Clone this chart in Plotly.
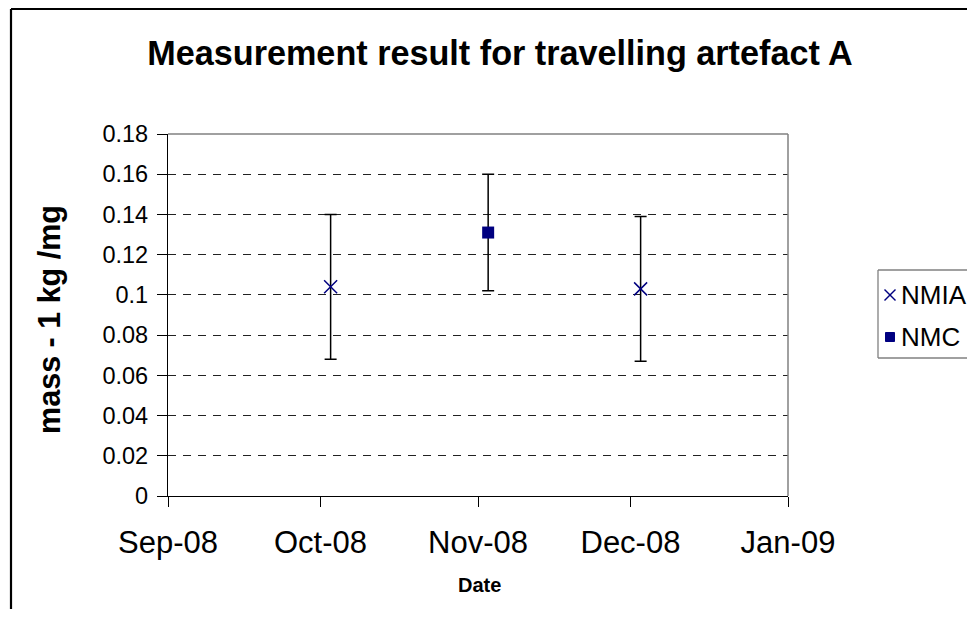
import plotly.graph_objects as go

# ---- data ----
nmia_dates = ["2008-10-03", "2008-12-03"]
nmia_values = [0.104, 0.103]
nmia_errors = [0.036, 0.036]

nmc_dates = ["2008-11-03"]
nmc_values = [0.131]
nmc_errors = [0.029]

series_names = ["NMIA", "NMC"]

x_tickvals = ["2008-09-01", "2008-10-01", "2008-11-01", "2008-12-01", "2009-01-01"]
x_ticktext = ["Sep-08", "Oct-08", "Nov-08", "Dec-08", "Jan-09"]
y_tickvals = [0, 0.02, 0.04, 0.06, 0.08, 0.1, 0.12, 0.14, 0.16, 0.18]
y_ticktext = ["0", "0.02", "0.04", "0.06", "0.08", "0.1", "0.12", "0.14", "0.16", "0.18"]

FONT = "Liberation Sans, Arial, sans-serif"
NAVY = "#000080"

# figure sized so that the page (with the browser's 8px body margin) fits the window
W, H = 959, 601
L, T = 160, 126
PW, PH = 620, 362


def px(x):  # figure pixel -> paper x
    return (x - L) / PW


def py(y):  # figure pixel -> paper y
    return (T + PH - y) / PH


fig = go.Figure()
fig.add_trace(go.Scatter(
    x=nmia_dates, y=nmia_values, mode="markers", name=series_names[0],
    marker=dict(symbol="x-thin-open", size=13, color=NAVY,
                line=dict(color=NAVY, width=1.5)),
    error_y=dict(type="data", array=nmia_errors, visible=True,
                 color="black", thickness=1.5, width=6),
))
fig.add_trace(go.Scatter(
    x=nmc_dates, y=nmc_values, mode="markers", name=series_names[1],
    marker=dict(symbol="square", size=12, color=NAVY),
    error_y=dict(type="data", array=nmc_errors, visible=True,
                 color="black", thickness=1.5, width=6),
))

GRAY = dict(color="#808080", width=1.3)
shapes = [
    # plot area top/right border
    dict(type="line", xref="paper", yref="paper", x0=0, x1=1, y0=1, y1=1,
         line=dict(color="#808080", width=1.5), layer="above"),
    dict(type="line", xref="paper", yref="paper", x0=1, x1=1, y0=0, y1=1,
         line=dict(color="#808080", width=1.5), layer="above"),
    # legend box (continues past the right edge)
    dict(type="line", xref="paper", yref="paper", x0=px(870), x1=px(W), y0=py(262), y1=py(262), line=GRAY),
    dict(type="line", xref="paper", yref="paper", x0=px(870), x1=px(W), y0=py(350), y1=py(350), line=GRAY),
    dict(type="line", xref="paper", yref="paper", x0=px(870), x1=px(870), y0=py(262), y1=py(350), line=GRAY),
    # legend key: NMIA cross
    dict(type="line", xref="paper", yref="paper", x0=px(876.5), x1=px(887.5), y0=py(281.5), y1=py(292.5),
         line=dict(color=NAVY, width=1.4)),
    dict(type="line", xref="paper", yref="paper", x0=px(876.5), x1=px(887.5), y0=py(292.5), y1=py(281.5),
         line=dict(color=NAVY, width=1.4)),
    # legend key: NMC square
    dict(type="rect", xref="paper", yref="paper", x0=px(877.5), x1=px(886.5), y0=py(324.5), y1=py(333.5),
         line=dict(color=NAVY, width=1), fillcolor=NAVY),
    # outer chart frame (left and top; right/bottom are beyond the picture)
    dict(type="line", xref="paper", yref="paper", x0=px(3), x1=px(3), y0=py(1), y1=py(H),
         line=dict(color="black", width=2.2)),
    dict(type="line", xref="paper", yref="paper", x0=px(3), x1=px(W), y0=py(1), y1=py(1),
         line=dict(color="black", width=2.2)),
]

fig.update_layout(
    width=W, height=H,
    margin=dict(l=L, r=W - L - PW, t=T, b=H - T - PH),
    paper_bgcolor="white", plot_bgcolor="white",
    font=dict(family=FONT, size=28, color="black"),
    title=dict(text="<b>Measurement result for travelling artefact A</b>",
               x=492/W, xanchor="center", y=1-45/H, yanchor="middle",
               font=dict(family=FONT, size=34.2, color="black")),
    showlegend=False,
    xaxis=dict(type="date", range=["2008-09-01", "2009-01-01"],
               tickvals=x_tickvals, ticktext=x_ticktext,
               showgrid=False, zeroline=False,
               showline=True, linecolor="black", linewidth=1.2,
               ticks="outside", ticklen=10, tickcolor="black", tickwidth=1,
               ticklabelstandoff=9,
               tickfont=dict(family=FONT, size=31, color="black")),
    yaxis=dict(range=[0, 0.18], tickvals=y_tickvals, ticktext=y_ticktext,
               showgrid=True, gridcolor="#222222", gridwidth=1, griddash="8px,7px",
               zeroline=False,
               showline=True, linecolor="black", linewidth=1.2,
               ticks="outside", ticklen=10, tickcolor="black", tickwidth=1,
               ticklabelstandoff=4,
               tickfont=dict(family=FONT, size=23.5, color="black")),
    shapes=shapes,
    annotations=[
        dict(text="<b>mass - 1 kg /mg</b>", xref="paper", yref="paper",
             x=-0.19, y=0.487, textangle=-90, showarrow=False,
             xanchor="center", yanchor="middle",
             font=dict(family=FONT, size=30.5, color="black")),
        dict(text="<b>Date</b>", xref="paper", yref="paper",
             x=0.503, y=-0.246, showarrow=False,
             xanchor="center", yanchor="middle",
             font=dict(family=FONT, size=20, color="black")),
        # legend labels
        dict(text=series_names[0], xref="paper", yref="paper",
             x=px(891), y=py(287), showarrow=False,
             xanchor="left", yanchor="middle",
             font=dict(family=FONT, size=26, color="black")),
        dict(text=series_names[1], xref="paper", yref="paper",
             x=px(891), y=py(329), showarrow=False,
             xanchor="left", yanchor="middle",
             font=dict(family=FONT, size=26, color="black")),
    ],
)

fig.write_html("out.html")
